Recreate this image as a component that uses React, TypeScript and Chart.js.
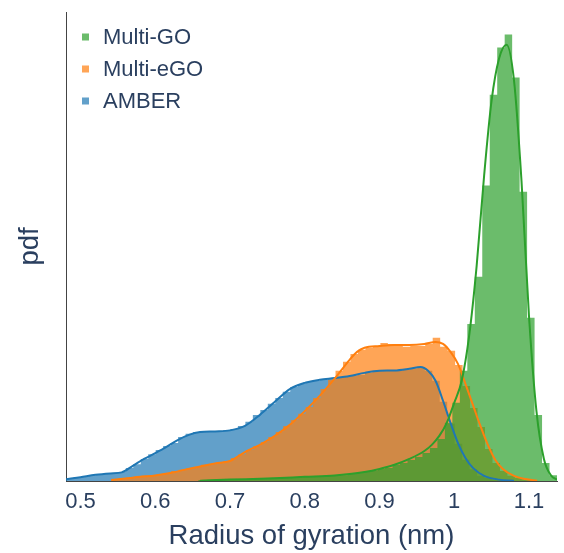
import React, { useEffect, useRef } from 'react';
import { Chart, registerables } from 'chart.js';

Chart.register(...registerables);

// ---------- data ----------
const BIN_WIDTH = 0.01;
const GO_START = 0.6575;
const EGO_START = 0.5412;
const AMBER_START = 0.4806;

// histogram heights (pdf) per bin
const goHist = [
  0.03, 0.03, 0.03, 0.03, 0.04, 0.04, 0.06, 0.06, 0.06, 0.07,
  0.07, 0.09, 0.09, 0.10, 0.12, 0.12, 0.13, 0.15, 0.17, 0.17,
  0.20, 0.23, 0.26, 0.29, 0.35, 0.38, 0.47, 0.52, 0.61, 0.70,
  0.81, 0.96, 1.22, 1.69, 2.27, 3.20, 4.56, 5.93, 8.58, 11.22,
  12.59, 12.97, 11.72, 8.40, 4.74, 1.92, 0.52, 0.17,
];
const egoHist = [
  0.06, 0.07, 0.10, 0.12, 0.15, 0.16, 0.19, 0.23, 0.29, 0.33,
  0.36, 0.41, 0.47, 0.49, 0.54, 0.58, 0.67, 0.78, 0.90, 1.02,
  1.13, 1.28, 1.42, 1.60, 1.77, 1.95, 2.15, 2.41, 2.67, 2.94,
  3.20, 3.46, 3.69, 3.81, 3.87, 3.90, 4.01, 3.98, 3.92, 3.90,
  3.92, 3.92, 3.98, 4.16, 3.90, 3.78, 3.37, 2.76, 2.12, 1.57,
  0.93, 0.52, 0.29, 0.15, 0.09, 0.04, 0.02,
];
const amberHist = [
  0.07, 0.10, 0.13, 0.17, 0.20, 0.22, 0.23, 0.26, 0.38, 0.49,
  0.64, 0.78, 0.90, 1.02, 1.10, 1.28, 1.37, 1.42, 1.42, 1.44,
  1.45, 1.47, 1.51, 1.60, 1.72, 1.92, 2.06, 2.24, 2.41, 2.59,
  2.73, 2.82, 2.88, 2.91, 2.94, 2.99, 3.02, 3.05, 3.05, 3.08,
  3.14, 3.20, 3.20, 3.20, 3.20, 3.23, 3.26, 3.28, 3.20, 2.91,
  2.30, 1.66, 1.08, 0.62, 0.34, 0.15, 0.09, 0.04, 0.02,
];

// KDE curves (x in nm, y in pdf)
const goKdeX = [0.66, 0.70, 0.75, 0.80, 0.84, 0.86, 0.88, 0.90, 0.92, 0.94, 0.96, 0.97, 0.98, 0.99, 1.00, 1.01, 1.02, 1.03, 1.04, 1.05, 1.06, 1.07, 1.08, 1.09, 1.10, 1.11, 1.12, 1.13, 1.1375];
const goKdeY = [0.01, 0.04, 0.07, 0.12, 0.16, 0.20, 0.26, 0.35, 0.47, 0.64, 0.87, 1.05, 1.31, 1.69, 2.27, 2.91, 4.22, 6.25, 8.87, 11.05, 12.27, 12.67, 11.63, 8.72, 4.80, 2.03, 0.64, 0.15, 0.04];

const egoKdeX = [0.541, 0.56, 0.58, 0.60, 0.62, 0.64, 0.66, 0.68, 0.70, 0.72, 0.74, 0.76, 0.78, 0.80, 0.82, 0.84, 0.86, 0.87, 0.88, 0.90, 0.92, 0.94, 0.96, 0.975, 0.985, 0.995, 1.005, 1.015, 1.025, 1.035, 1.045, 1.055, 1.065, 1.08, 1.095, 1.111];
const egoKdeY = [0.03, 0.07, 0.12, 0.16, 0.23, 0.33, 0.42, 0.51, 0.58, 0.84, 1.05, 1.31, 1.63, 2.03, 2.47, 2.97, 3.52, 3.75, 3.87, 3.92, 3.95, 3.95, 3.98, 4.04, 3.98, 3.75, 3.40, 2.82, 2.21, 1.60, 1.05, 0.61, 0.35, 0.15, 0.06, 0.01];

const amberKdeX = [0.481, 0.50, 0.52, 0.54, 0.555, 0.57, 0.585, 0.60, 0.615, 0.63, 0.645, 0.66, 0.68, 0.70, 0.72, 0.74, 0.76, 0.78, 0.80, 0.82, 0.84, 0.86, 0.88, 0.90, 0.92, 0.94, 0.955, 0.965, 0.975, 0.985, 0.995, 1.005, 1.015, 1.025, 1.04, 1.06, 1.08];
const amberKdeY = [0.05, 0.11, 0.18, 0.22, 0.25, 0.44, 0.64, 0.81, 0.99, 1.19, 1.34, 1.42, 1.44, 1.47, 1.60, 1.92, 2.30, 2.67, 2.85, 2.94, 2.99, 3.05, 3.14, 3.20, 3.21, 3.26, 3.31, 3.20, 2.91, 2.33, 1.69, 1.10, 0.67, 0.38, 0.15, 0.04, 0.01];

const seriesLabels = ['Multi-GO', 'Multi-eGO', 'AMBER'];
const X_TICKS = [0.5, 0.6, 0.7, 0.8, 0.9, 1.0, 1.1];
const X_TICK_LABELS = ['0.5', '0.6', '0.7', '0.8', '0.9', '1', '1.1'];
const X_MIN = 0.4806;
const X_MAX = 1.1375;
const Y_MAX = 13.62;

// ---------- styles ----------
const FONT = '"Liberation Sans", Arial, sans-serif';
const TEXT = '#2a3f5f';
const AXIS = '#444444';
const RGB = ['44,160,44', '255,127,14', '31,119,180'];

function histPoints(start: number, values: number[]) {
  const pts = values.map((v, i) => ({ x: start + i * BIN_WIDTH, y: v }));
  const end = start + values.length * BIN_WIDTH;
  pts.push({ x: end, y: values[values.length - 1] });
  pts.push({ x: end, y: 0 });
  return pts;
}
function curvePoints(xs: number[], ys: number[]) {
  return xs.map((x, i) => ({ x, y: ys[i] }));
}

const insideLegend = {
  id: 'insideLegend',
  afterDraw(chart: any) {
    const { ctx, chartArea } = chart;
    ctx.save();
    ctx.font = `22px ${FONT}`;
    ctx.textBaseline = 'middle';
    ctx.textAlign = 'left';
    const items = chart.data.datasets.filter((d: any) => d.isHist);
    items.forEach((d: any, i: number) => {
      const cy = chartArea.top + 26 + i * 32;
      ctx.fillStyle = d.backgroundColor;
      ctx.fillRect(chartArea.left + 16, cy - 4.5, 7, 7);
      ctx.fillStyle = TEXT;
      ctx.fillText(d.label, chartArea.left + 37, cy);
    });
    ctx.restore();
  },
};

export default function App() {
  const ref = useRef<HTMLCanvasElement | null>(null);

  useEffect(() => {
    if (!ref.current) return;
    const hists = [goHist, egoHist, amberHist];
    const starts = [GO_START, EGO_START, AMBER_START];
    const kx = [goKdeX, egoKdeX, amberKdeX];
    const ky = [goKdeY, egoKdeY, amberKdeY];

    const histSets = seriesLabels.map((label, i) => ({
      label,
      isHist: true,
      data: histPoints(starts[i], hists[i]),
      stepped: 'before' as const,
      fill: 'origin',
      backgroundColor: `rgba(${RGB[i]},0.7)`,
      borderColor: 'rgba(0,0,0,0)',
      borderWidth: 0,
      pointRadius: 0,
      order: 1,
    }));
    const curveSets = seriesLabels.map((label, i) => ({
      label: label + ' curve',
      isHist: false,
      data: curvePoints(kx[i], ky[i]),
      fill: false,
      borderColor: `rgb(${RGB[i]})`,
      borderWidth: 2,
      pointRadius: 0,
      cubicInterpolationMode: 'monotone' as const,
      order: 0,
    }));

    const chart = new Chart(ref.current, {
      type: 'line',
      data: { datasets: [...curveSets, ...histSets] as any },
      options: {
        animation: false,
        responsive: false,
        devicePixelRatio: 1,
        events: [],
        layout: { padding: { top: 12, right: 7, left: 0, bottom: 0 } },
        plugins: {
          legend: { display: false },
          tooltip: { enabled: false },
        },
        scales: {
          x: {
            type: 'linear',
            min: X_MIN,
            max: X_MAX,
            afterBuildTicks: (scale: any) => {
              scale.ticks = X_TICKS.map((v) => ({ value: v }));
            },
            afterFit: (scale: any) => {
              scale.height = 72;
            },
            ticks: {
              padding: 8,
              color: TEXT,
              font: { family: FONT, size: 22 },
              maxRotation: 0,
              autoSkip: false,
              callback: (value: any) => {
                const i = X_TICKS.indexOf(value);
                return i >= 0 ? X_TICK_LABELS[i] : '';
              },
            },
            grid: { display: false, drawTicks: false },
            border: { display: true, color: AXIS, width: 1 },
            title: {
              display: true,
              text: 'Radius of gyration (nm)',
              color: TEXT,
              font: { family: FONT, size: 27.5 },
              padding: { top: 0, bottom: 0 },
            },
          },
          y: {
            type: 'linear',
            min: 0,
            max: Y_MAX,
            afterFit: (scale: any) => {
              scale.width = 66;
            },
            ticks: { display: false },
            grid: { display: false, drawTicks: false },
            border: { display: true, color: AXIS, width: 1 },
            title: {
              display: true,
              text: 'pdf',
              color: TEXT,
              font: { family: FONT, size: 27.5 },
              padding: { top: 14, bottom: 0 },
            },
          },
        },
      },
      plugins: [insideLegend],
    });
    return () => chart.destroy();
  }, []);

  return (
    <div style={{ position: 'fixed', left: 0, top: 0, width: 564, height: 553, background: '#fff' }}>
      <canvas ref={ref} width={564} height={553} style={{ display: 'block', width: 564, height: 553 }} />
    </div>
  );
}
